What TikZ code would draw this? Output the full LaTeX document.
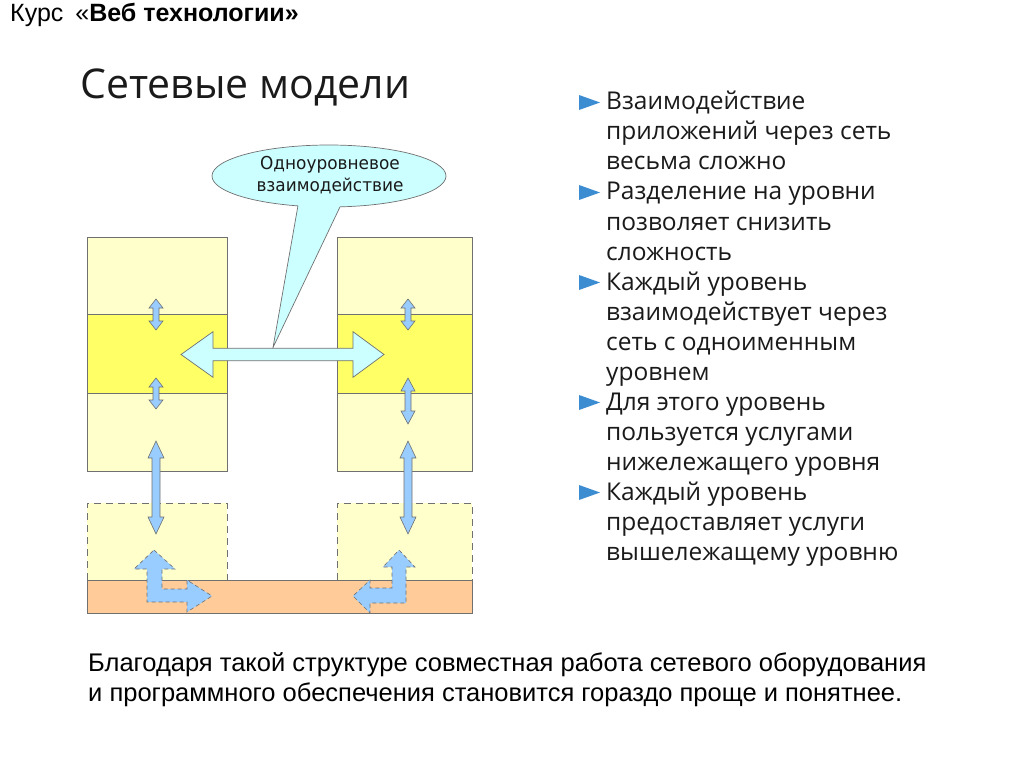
\documentclass[tikz,border=0pt]{standalone}
\usepackage{fontspec}
\setmainfont{Liberation Sans}
\newfontfamily\osans{Open Sans}
\newfontfamily\dvs[FakeStretch=0.95]{DejaVu Sans}
\definecolor{ly}{HTML}{FFFFCC}
\definecolor{by}{HTML}{FFFF66}
\definecolor{org}{HTML}{FFCC99}
\definecolor{arb}{HTML}{99CCFF}
\definecolor{cal}{HTML}{CCFFFF}
\definecolor{bul}{HTML}{3C8CD2}
\definecolor{edge}{HTML}{707070}
\definecolor{txt}{HTML}{1A1A1A}
\newcommand{\vda}[6]{%
\draw[barrow] (#1,#2) -- ++(#5,#6) -- ++(-#5+#4,0) -- (#1+#4,#3-#6) -- ++(#5-#4,0) -- (#1,#3) -- ++(-#5,-#6) -- ++(#5-#4,0) -- (#1-#4,#2+#6) -- ++(-#5+#4,0) -- cycle;}
\tikzset{
  layer/.style={draw=edge, line width=0.8pt},
  dlayer/.style={draw=edge, line width=0.8pt, dash pattern=on 7pt off 5pt},
  barrow/.style={fill=arb, draw=edge, line width=0.6pt, line join=miter},
  bentarrow/.style={fill=arb, draw=edge, line width=0.6pt, dash pattern=on 4pt off 3pt},
  bl/.style={anchor=base west, inner sep=0pt, font=\osans\fontsize{24.5}{30}\selectfont, text=txt},
  bt/.style={anchor=base west, inner sep=0pt, font=\fontsize{25.5}{30}\selectfont, text=black},
  bullet/.style={fill=bul, draw=none}
}
\begin{document}
\begin{tikzpicture}[x=1pt,y=-1pt]
\useasboundingbox[fill=white] (0,0) rectangle (1024,767);
% title
\node[anchor=base west, inner sep=0pt, font=\fontsize{25}{28}\selectfont] (course) at (10,21.7) {Курс\hspace{12pt}«\textbf{Веб технологии»}};
\node[anchor=base west, inner sep=0pt, font=\osans\fontsize{41}{48}\selectfont, text=txt] (title) at (80,99) {Сетевые модели};
% left stack
\fill[ly] (87,237) rectangle (227,314.5);
\fill[by] (87,314.5) rectangle (227,393);
\fill[ly] (87,393) rectangle (227,471);
\draw[layer] (87,237) rectangle (227,471);
\draw[layer] (87,314.5) -- (227,314.5) (87,393) -- (227,393);
% right stack
\fill[ly] (337,237) rectangle (472,314.5);
\fill[by] (337,314.5) rectangle (472,393);
\fill[ly] (337,393) rectangle (472,471);
\draw[layer] (337,237) rectangle (472,471);
\draw[layer] (337,314.5) -- (472,314.5) (337,393) -- (472,393);
% dashed boxes
\fill[ly] (87,503) rectangle (227,580);
\fill[ly] (337,503) rectangle (472,580);
\draw[dlayer] (87,580) -- (87,503) -- (227,503) -- (227,580);
\draw[dlayer] (337,580) -- (337,503) -- (472,503) -- (472,580);
% orange strip
\fill[org] (87,580) rectangle (472,613);
\draw[layer] (87,580) rectangle (472,613);
% vertical arrows
\vda{156}{299}{330}{3}{7}{9}
\vda{156}{378}{409}{3}{7}{9}
\vda{156}{441}{534}{4}{8}{17}
\vda{408}{299}{330}{3}{7}{9}
\vda{408}{378}{424}{3}{7}{13}
\vda{408}{441}{534}{4}{8}{17}
% bent arrows
\draw[bentarrow] (154,550) -- (175,569) -- (162,569) -- (162,589) -- (187,589) -- (187,580) -- (212,596) -- (187,612) -- (187,602) -- (147,602) -- (147,569) -- (134,569) -- cycle;
\draw[bentarrow] (399,550) -- (415,567) -- (406,567) -- (406,603) -- (370,603) -- (370,613) -- (353,596) -- (370,580) -- (370,588) -- (392,588) -- (392,567) -- (383,567) -- cycle;
% callout
\draw[fill=cal, draw=edge, line width=0.7pt] (329,176) ++(84.6:117 and 31) arc[start angle=84.6, end angle=-254.6, x radius=117, y radius=31] -- (273,347.5) -- cycle;
\node[anchor=base, inner sep=0pt, font=\dvs\fontsize{17.8}{21.7}\selectfont, text=txt] (callt1) at (330,170) {Одноуровневое};
\node[anchor=base, inner sep=0pt, font=\dvs\fontsize{17.8}{21.7}\selectfont, text=txt] (callt2) at (330,191.7) {взаимодействие};
% horizontal double arrow
\draw[fill=cal, draw=edge, line width=0.7pt] (181,354.5) -- (213,331.7) -- (213,348.3) -- (353,348.3) -- (353,331.7) -- (384,354.5) -- (353,377.3) -- (353,360.7) -- (213,360.7) -- (213,377.3) -- cycle;
% bullets
\foreach \y in {95,185,275,395,485}
  \fill[bullet] (579,\y) -- (600,\y+7.5) -- (579,\y+15) -- cycle;
\node[bl] (l1) at (606,110) {Взаимодействие};
\node[bl] (l2) at (606,140) {приложений через сеть};
\node[bl] (l3) at (606,170) {весьма сложно};
\node[bl] (l4) at (606,200) {Разделение на уровни};
\node[bl] (l5) at (606,230) {позволяет снизить};
\node[bl] (l6) at (606,260) {сложность};
\node[bl] (l7) at (606,290) {Каждый уровень};
\node[bl] (l8) at (606,320) {взаимодействует через};
\node[bl] (l9) at (606,350) {сеть с одноименным};
\node[bl] (l10) at (606,380) {уровнем};
\node[bl] (l11) at (606,410) {Для этого уровень};
\node[bl] (l12) at (606,440) {пользуется услугами};
\node[bl] (l13) at (606,470) {нижележащего уровня};
\node[bl] (l14) at (606,500) {Каждый уровень};
\node[bl] (l15) at (606,530) {предоставляет услуги};
\node[bl] (l16) at (606,560) {вышележащему уровню};
% bottom text
\node[bt] (b1) at (88,671.7) {Благодаря такой структуре совместная работа сетевого оборудования};
\node[bt] (b2) at (88,701) {и программного обеспечения становится гораздо проще и понятнее.};
\end{tikzpicture}
\end{document}
